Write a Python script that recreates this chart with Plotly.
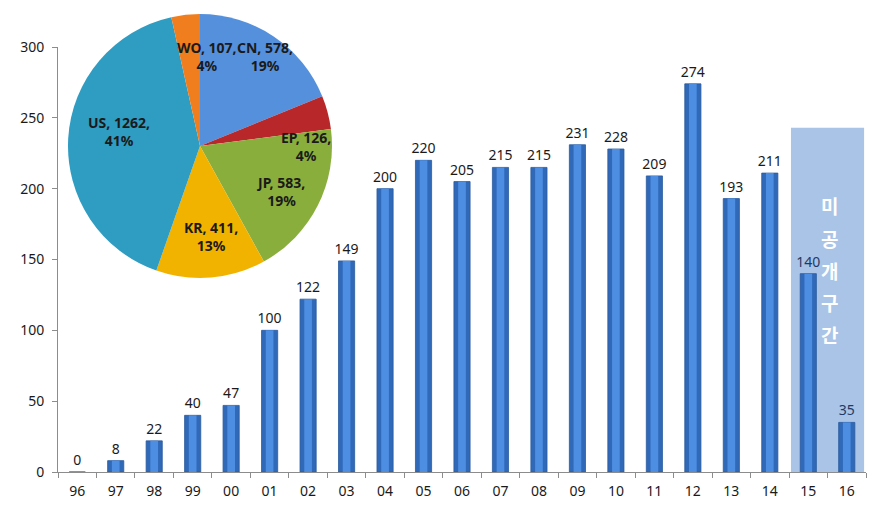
import math
import plotly.graph_objects as go

# ---------------- data ----------------
years = ["96", "97", "98", "99", "00", "01", "02", "03", "04", "05", "06",
         "07", "08", "09", "10", "11", "12", "13", "14", "15", "16"]
counts = [0, 8, 22, 40, 47, 100, 122, 149, 200, 220, 205,
          215, 215, 231, 228, 209, 274, 193, 211, 140, 35]

countries = ["CN", "EP", "JP", "KR", "US", "WO"]
country_counts = [578, 126, 583, 411, 1262, 107]
country_pct = [19, 4, 19, 13, 41, 4]
country_colors = ["#5590dc", "#b8282a", "#8aae3c", "#f2b300", "#2f9cc2", "#f07d1e"]

shade_label = "미공개구간"
shade_top = 243          # height of the shaded "unpublished" band
shade_years = ["15", "16"]

# ---------------- geometry helpers (pixel -> paper) ----------------
W, H = 881, 510
ML, MR, MT, MB = 58, 15, 10, 38
PW, PH = W - ML - MR, H - MT - MB
plot_bottom_px = H - MB          # y pixel of value 0
y_top_px = 47                    # y pixel of value 300


def px_to_paper(px, py):
    return (px - ML) / PW, (plot_bottom_px - py) / PH


fig = go.Figure()

# bars (base + central highlight to hint at the cylinder shading)
label_colors = ["#1a1a1a"] * (len(years) - 2) + ["#1f3a66", "#1f3a66"]
fig.add_trace(go.Bar(
    x=years, y=counts, width=0.42,
    marker=dict(color="#3069b8", line=dict(color="#2a5a9e", width=0.8)),
    text=[str(v) for v in counts], textposition="outside", textangle=0,
    constraintext="none",
    textfont=dict(family="Noto Sans", size=14, color=label_colors),
    cliponaxis=False, hoverinfo="skip", showlegend=False,
))
fig.add_trace(go.Bar(
    x=years, y=counts, width=0.2,
    marker=dict(color="#4d8de2", line=dict(width=0)),
    hoverinfo="skip", showlegend=False,
))

# shaded band for unpublished period
i0 = years.index(shade_years[0])
i1 = years.index(shade_years[-1])
fig.add_shape(type="rect", xref="x", yref="y",
              x0=i0 - 0.45, x1=i1 + 0.45, y0=0, y1=shade_top,
              fillcolor="#a9c4e6", line=dict(width=0), layer="below")

# vertical Korean label inside the band
char_px = [206, 238, 270, 302, 334]
for ch, py in zip(shade_label, char_px):
    _, yp = px_to_paper(0, py)
    fig.add_annotation(x=(i0 + i1) / 2 + 0.05, xref="x", y=yp, yref="paper",
                       xanchor="center", yanchor="middle",
                       text="<b>%s</b>" % ch, showarrow=False,
                       font=dict(family="Noto Sans CJK KR", size=19, color="white"))

# ---------------- pie inset ----------------
cx, cy, r = 200, 146, 132
x0p, y0p = px_to_paper(cx - r, cy + r)
x1p, y1p = px_to_paper(cx + r, cy - r)
fig.add_trace(go.Pie(
    labels=countries, values=country_counts, sort=False, direction="clockwise",
    rotation=0, marker=dict(colors=country_colors, line=dict(width=0)),
    textinfo="none", hoverinfo="skip", showlegend=False,
    domain=dict(x=[x0p, x1p], y=[y0p, min(y1p, 1.0)]),
))

# pie labels positioned from slice mid-angles
angle_shift = [2, 15, 3, -2, 7, 11]
radius_frac = [0.84, 0.80, 0.70, 0.69, 0.62, 0.68]
total = sum(country_counts)
acc = 0
for name, v, pct, da, rf in zip(countries, country_counts, country_pct,
                                angle_shift, radius_frac):
    mid = (acc + v / 2) / total * 360 + da
    acc += v
    px = cx + r * rf * math.sin(math.radians(mid))
    py = cy - r * rf * math.cos(math.radians(mid))
    xp, yp = px_to_paper(px, py)
    fig.add_annotation(x=xp, y=yp, xref="paper", yref="paper",
                       xanchor="center", yanchor="middle",
                       text="<b>%s, %d,<br>%d%%</b>" % (name, v, pct),
                       showarrow=False,
                       font=dict(family="Noto Sans", size=14, color="#1a1a1a"))

fig.update_layout(
    width=W, height=H, margin=dict(l=ML, r=MR, t=MT, b=MB),
    paper_bgcolor="white", plot_bgcolor="white",
    barmode="overlay", bargap=0.5,
    xaxis=dict(type="category", range=[-0.5, len(years) - 0.5],
               showline=True, linecolor="#8c8c8c", linewidth=1,
               ticks="outside", tickson="boundaries", ticklen=5, tickcolor="#8c8c8c",
               ticklabelstandoff=6,
               tickfont=dict(family="Noto Sans", size=14, color="#1a1a1a"),
               showgrid=False, zeroline=False, automargin=False),
    yaxis=dict(range=[0, 300], dtick=50, domain=[0, (plot_bottom_px - y_top_px) / PH],
               showline=True, linecolor="#8c8c8c", linewidth=1,
               ticks="outside", ticklen=5, tickcolor="#8c8c8c",
               ticklabelstandoff=5,
               tickfont=dict(family="Noto Sans", size=14, color="#1a1a1a"),
               showgrid=False, zeroline=False, automargin=False),
)

fig.write_html("out.html")
